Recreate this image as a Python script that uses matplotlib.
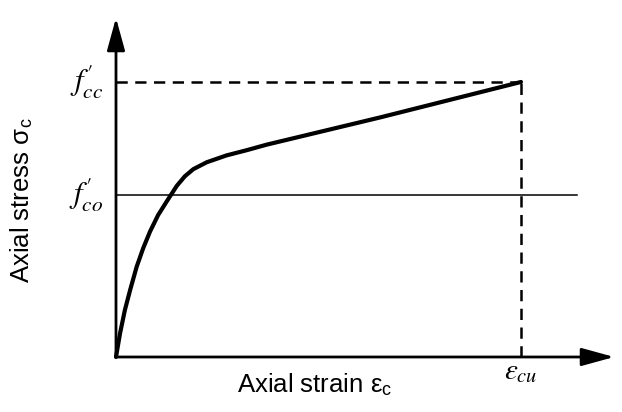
import matplotlib
matplotlib.use("Agg")
import matplotlib.pyplot as plt

plt.rcParams["font.family"] = ["Liberation Sans", "DejaVu Sans"]
plt.rcParams["mathtext.fontset"] = "stix"

# normalised stress-strain curve (strain / eps_cu, stress / f'cc)
strain = [0.0, 0.010, 0.022, 0.035, 0.051, 0.067, 0.084, 0.104, 0.125,
          0.150, 0.170, 0.191, 0.224, 0.273, 0.323, 0.372, 0.652, 1.0]
stress = [0.0, 0.086, 0.171, 0.244, 0.328, 0.395, 0.456, 0.516, 0.565,
          0.622, 0.657, 0.683, 0.708, 0.733, 0.752, 0.772, 0.871, 1.0]

eps_cu = 1.0
f_cc = 1.0
f_co = 0.589
f_co_line_end = 1.138
x_axis_tip = 1.23
y_axis_tip = 1.233

fig = plt.figure(figsize=(6.22, 4.12), dpi=100)
ax = fig.add_axes([0, 0, 1, 1])
ax.set_xlim(-0.2864, 1.2494)
ax.set_ylim(-0.2, 1.298)
ax.axis("off")

# axes with arrows
arrow = dict(arrowstyle="-|>,head_length=0.8,head_width=0.22", lw=2.0,
             color="black", mutation_scale=25, shrinkA=0, shrinkB=0)
ax.annotate("", xy=(x_axis_tip, 0), xytext=(0, 0), arrowprops=arrow)
ax.annotate("", xy=(0, y_axis_tip), xytext=(0, 0), arrowprops=arrow)

# reference lines
ax.plot([0, eps_cu], [f_cc, f_cc], color="black", lw=1.8, ls=(0, (4.5, 3)))
ax.plot([eps_cu, eps_cu], [0, f_cc], color="black", lw=1.8, ls=(0, (4.5, 3)))
ax.plot([0, f_co_line_end], [f_co, f_co], color="black", lw=1.1)

# curve
ax.plot(strain, stress, color="black", lw=3.0, solid_capstyle="round",
        solid_joinstyle="round")

# labels
ax.text(-0.032, f_cc, r"$f_{cc}^{\prime}$", fontsize=22, ha="right", va="center")
ax.text(-0.032, f_co, r"$f_{co}^{\prime}$", fontsize=22, ha="right", va="center")
ax.text(eps_cu, -0.05, r"$\varepsilon_{cu}$", fontsize=21, ha="center",
        va="center")
ax.text(0.49, -0.10, r"Axial strain ε$_\mathregular{c}$", fontsize=18.5,
        ha="center", va="center")
ax.text(-0.232, 0.57, r"Axial stress σ$_\mathregular{c}$", fontsize=18.5,
        ha="center", va="center", rotation=90)

fig.savefig("out.png", dpi=100)
